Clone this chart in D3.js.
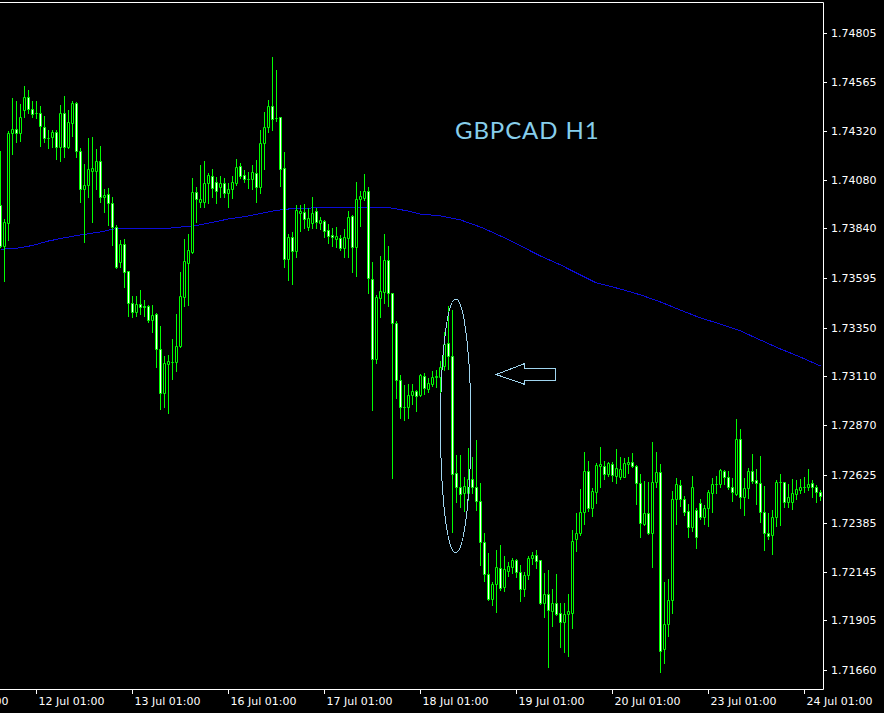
<!DOCTYPE html>
<html>
<head>
<meta charset="utf-8">
<script src="https://cdn.jsdelivr.net/npm/d3@7"></script>
<style>
  html, body { margin: 0; padding: 0; background: #000; }
  svg { display: block; }
</style>
</head>
<body>
<div id="chart"></div>
<script>
// GBPCAD H1 candles, one per hour, [open, high, low, close]
var candles = [
  [1.73956,1.74222,1.73748,1.73755],[1.73755,1.73887,1.73582,1.73870],[1.73868,1.74323,1.73783,1.74313],[1.74310,1.74483,1.74208,1.74330],
  [1.74330,1.74469,1.74268,1.74310],[1.74310,1.74454,1.74272,1.74389],[1.74425,1.74543,1.74392,1.74488],[1.74488,1.74524,1.74412,1.74428],
  [1.74428,1.74471,1.74392,1.74404],[1.74409,1.74469,1.74384,1.74409],[1.74409,1.74445,1.74249,1.74346],[1.74342,1.74395,1.74268,1.74285],
  [1.74288,1.74326,1.74239,1.74287],[1.74290,1.74326,1.74244,1.74315],[1.74315,1.74326,1.74181,1.74244],[1.74244,1.74450,1.74175,1.74409],
  [1.74409,1.74494,1.74194,1.74241],[1.74241,1.74425,1.74236,1.74364],[1.74362,1.74469,1.74296,1.74458],[1.74458,1.74464,1.74194,1.74224],
  [1.74224,1.74237,1.73972,1.74033],[1.74033,1.74157,1.73775,1.74053],[1.74053,1.74285,1.73997,1.74132],[1.74125,1.74293,1.73873,1.74137],
  [1.74125,1.74232,1.74035,1.74173],[1.74173,1.74247,1.73972,1.73997],[1.73997,1.74035,1.73923,1.74005],[1.74009,1.74041,1.73857,1.73964],
  [1.73964,1.73997,1.73758,1.73846],[1.73846,1.73857,1.73643,1.73648],[1.73676,1.73783,1.73651,1.73763],[1.73763,1.73788,1.73550,1.73627],
  [1.73630,1.73630,1.73408,1.73474],[1.73474,1.73507,1.73404,1.73426],[1.73426,1.73507,1.73409,1.73466],[1.73466,1.73536,1.73416,1.73451],
  [1.73457,1.73487,1.73409,1.73454],[1.73457,1.73462,1.73380,1.73387],[1.73387,1.73462,1.73327,1.73413],[1.73418,1.73424,1.73158,1.73243],
  [1.73243,1.73359,1.72947,1.73026],[1.73026,1.73210,1.72960,1.73174],[1.73171,1.73215,1.72927,1.73186],[1.73181,1.73294,1.73095,1.73182],
  [1.73181,1.73418,1.73138,1.73260],[1.73260,1.73625,1.73255,1.73507],[1.73503,1.73788,1.73457,1.73679],[1.73671,1.73813,1.73462,1.73734],
  [1.73725,1.74088,1.73720,1.74022],[1.74022,1.74046,1.73873,1.73984],[1.73972,1.74153,1.73946,1.73986],[1.73972,1.74173,1.73945,1.74063],
  [1.74063,1.74115,1.73967,1.74104],[1.74099,1.74134,1.73997,1.74038],[1.74068,1.74096,1.73964,1.74027],[1.74046,1.74099,1.73997,1.74063],
  [1.74063,1.74088,1.73997,1.74017],[1.74017,1.74063,1.73945,1.74035],[1.74033,1.74099,1.73990,1.74068],[1.74063,1.74183,1.74055,1.74142],
  [1.74148,1.74162,1.74089,1.74101],[1.74104,1.74129,1.74071,1.74083],[1.74083,1.74120,1.74038,1.74083],[1.74083,1.74153,1.74033,1.74117],
  [1.74112,1.74178,1.73972,1.74043],[1.74043,1.74326,1.74017,1.74261],[1.74261,1.74414,1.74132,1.74340],[1.74340,1.74474,1.74318,1.74445],
  [1.74445,1.74688,1.74326,1.74379],[1.74384,1.74622,1.74371,1.74384],[1.74389,1.74392,1.74051,1.74132],[1.74137,1.74219,1.73651,1.73688],
  [1.73688,1.73813,1.73586,1.73796],[1.73796,1.73824,1.73566,1.73730],[1.73730,1.73956,1.73701,1.73931],[1.73918,1.73956,1.73829,1.73928],
  [1.73920,1.73961,1.73841,1.73887],[1.73849,1.73943,1.73832,1.73893],[1.73868,1.73997,1.73841,1.73918],[1.73926,1.73943,1.73841,1.73873],
  [1.73868,1.73898,1.73837,1.73882],[1.73877,1.73882,1.73799,1.73829],[1.73832,1.73861,1.73770,1.73804],[1.73808,1.73841,1.73753,1.73799],
  [1.73788,1.73849,1.73747,1.73803],[1.73794,1.73808,1.73734,1.73745],[1.73745,1.73836,1.73701,1.73796],[1.73794,1.73928,1.73698,1.73895],
  [1.73902,1.73907,1.73627,1.73750],[1.73750,1.74071,1.73605,1.73984],[1.73984,1.74025,1.73852,1.74000],[1.73992,1.74109,1.73981,1.74025],
  [1.74025,1.74046,1.73520,1.73594],[1.73589,1.73676,1.72944,1.73194],[1.73194,1.73512,1.73176,1.73500],[1.73495,1.73704,1.73404,1.73531],
  [1.73528,1.73813,1.73470,1.73684],[1.73684,1.73753,1.73457,1.73520],[1.73523,1.73523,1.72606,1.73372],[1.73372,1.73383,1.73001,1.73092],
  [1.73092,1.73116,1.72903,1.72957],[1.72960,1.73067,1.72894,1.72960],[1.72960,1.73072,1.72903,1.73018],[1.73016,1.73072,1.72973,1.73038],
  [1.73038,1.73043,1.72940,1.73014],[1.73018,1.73122,1.73013,1.73116],[1.73113,1.73125,1.73021,1.73051],[1.73047,1.73100,1.73034,1.73078],
  [1.73072,1.73138,1.73062,1.73105],[1.73105,1.73141,1.73059,1.73112],[1.73108,1.73187,1.73029,1.73155],[1.73162,1.73330,1.73141,1.73268],
  [1.73273,1.73457,1.73145,1.73212],[1.73212,1.73437,1.72343,1.72626],[1.72631,1.72722,1.72491,1.72562],[1.72562,1.72722,1.72466,1.72527],
  [1.72532,1.72614,1.72447,1.72568],[1.72532,1.72755,1.72499,1.72602],[1.72602,1.72713,1.72535,1.72562],[1.72565,1.72796,1.72450,1.72494],
  [1.72494,1.72582,1.72178,1.72293],[1.72293,1.72335,1.72099,1.72133],[1.72133,1.72236,1.72006,1.72009],[1.72011,1.72096,1.71981,1.72085],
  [1.72083,1.72252,1.71948,1.72167],[1.72162,1.72277,1.72055,1.72063],[1.72071,1.72223,1.72052,1.72157],[1.72150,1.72195,1.72124,1.72173],
  [1.72170,1.72214,1.72140,1.72203],[1.72203,1.72207,1.72118,1.72142],[1.72142,1.72178,1.72002,1.72058],[1.72058,1.72145,1.72025,1.72129],
  [1.72129,1.72223,1.72109,1.72212],[1.72212,1.72244,1.72182,1.72228],[1.72228,1.72252,1.72162,1.72200],[1.72203,1.72203,1.71986,1.71989],
  [1.71989,1.72137,1.71923,1.72035],[1.72035,1.72154,1.71673,1.71956],[1.71953,1.72060,1.71879,1.71989],[1.71989,1.72134,1.71932,1.71937],
  [1.71940,1.71989,1.71775,1.71896],[1.71896,1.71989,1.71750,1.71935],[1.71935,1.72035,1.71731,1.71951],[1.71940,1.72351,1.71866,1.72298],
  [1.72305,1.72434,1.72249,1.72335],[1.72335,1.72554,1.72327,1.72439],[1.72439,1.72735,1.72381,1.72643],[1.72643,1.72692,1.72447,1.72461],
  [1.72461,1.72557,1.72420,1.72544],[1.72540,1.72681,1.72486,1.72672],[1.72669,1.72760,1.72565,1.72677],[1.72669,1.72692,1.72603,1.72628],
  [1.72628,1.72689,1.72619,1.72681],[1.72677,1.72689,1.72593,1.72623],[1.72619,1.72751,1.72585,1.72656],[1.72614,1.72713,1.72602,1.72651],
  [1.72614,1.72705,1.72611,1.72681],[1.72677,1.72710,1.72631,1.72686],[1.72686,1.72733,1.72661,1.72669],[1.72669,1.72672,1.72480,1.72582],
  [1.72582,1.72628,1.72318,1.72387],[1.72381,1.72593,1.72376,1.72434],[1.72434,1.72590,1.72332,1.72338],[1.72338,1.72787,1.72170,1.72587],
  [1.72587,1.72738,1.72564,1.72636],[1.72636,1.72677,1.71652,1.71754],[1.71762,1.72096,1.71696,1.71887],[1.71886,1.72109,1.71829,1.72006],
  [1.72006,1.72544,1.71940,1.72504],[1.72504,1.72606,1.72379,1.72577],[1.72573,1.72598,1.72471,1.72503],[1.72504,1.72519,1.72425,1.72442],
  [1.72445,1.72480,1.72318,1.72365],[1.72365,1.72618,1.72348,1.72565],[1.72450,1.72461,1.72264,1.72318],[1.72483,1.72504,1.72404,1.72414],
  [1.72414,1.72475,1.72381,1.72458],[1.72458,1.72549,1.72373,1.72537],[1.72532,1.72606,1.72442,1.72577],[1.72577,1.72618,1.72535,1.72577],
  [1.72577,1.72652,1.72562,1.72648],[1.72643,1.72648,1.72578,1.72611],[1.72611,1.72644,1.72552,1.72562],[1.72565,1.72606,1.72496,1.72537],
  [1.72529,1.72899,1.72524,1.72799],[1.72799,1.72850,1.72461,1.72516],[1.72513,1.72606,1.72425,1.72557],[1.72557,1.72656,1.72511,1.72643],
  [1.72643,1.72727,1.72582,1.72595],[1.72598,1.72652,1.72480,1.72582],[1.72582,1.72717,1.72392,1.72442],[1.72439,1.72568,1.72252,1.72335],
  [1.72335,1.72437,1.72305,1.72323],[1.72327,1.72450,1.72233,1.72414],[1.72414,1.72598,1.72371,1.72587],[1.72587,1.72628,1.72376,1.72587],
  [1.72587,1.72587,1.72463,1.72491],[1.72491,1.72578,1.72466,1.72513],[1.72491,1.72603,1.72455,1.72532],[1.72527,1.72598,1.72504,1.72552],
  [1.72549,1.72603,1.72532,1.72565],[1.72562,1.72611,1.72537,1.72562],[1.72562,1.72652,1.72549,1.72578],[1.72582,1.72598,1.72516,1.72562],
  [1.72562,1.72573,1.72491,1.72537],[1.72537,1.72549,1.72499,1.72521]
];

// moving average, read at some bars
var maBars   = [0, 4, 8, 12, 16, 20, 25, 29, 35, 42, 45, 49, 53, 57, 61, 65, 69, 72, 80, 90, 97, 102, 105, 110,
                115, 120, 125, 130, 135, 140, 145, 149, 155, 160, 165, 170, 175, 180, 185, 190, 195, 200, 205];
var maValues = [1.73737, 1.73742, 1.73756, 1.73778, 1.73794, 1.73808, 1.73823, 1.73840, 1.73841, 1.73841, 1.73847,
                1.73855, 1.73870, 1.73887, 1.73898, 1.73914, 1.73929, 1.73936, 1.73943, 1.73945, 1.73943, 1.73926,
                1.73911, 1.73902, 1.73882, 1.73847, 1.73803, 1.73754, 1.73704, 1.73660, 1.73610, 1.73571, 1.73541,
                1.73512, 1.73477, 1.73437, 1.73398, 1.73368, 1.73334, 1.73289, 1.73245, 1.73205, 1.73161];

// price axis
var priceTicks = [1.74805, 1.74565, 1.74320, 1.74080, 1.73840, 1.73595, 1.73350,
                  1.73110, 1.72870, 1.72625, 1.72385, 1.72145, 1.71905, 1.71660];

// time axis (bar index of each label)
var timeTickBars   = [-15, 9, 33, 57, 81, 105, 129, 153, 177, 201];
var timeTickLabels = ["11 Jul 01:00", "12 Jul 01:00", "13 Jul 01:00", "16 Jul 01:00", "17 Jul 01:00",
                      "18 Jul 01:00", "19 Jul 01:00", "20 Jul 01:00", "23 Jul 01:00", "24 Jul 01:00"];

// annotations: ellipse [left bar, right bar, top price, bottom price] and the arrow outline
var ellipseBox = [110, 117.6, 1.73492, 1.72239];
var arrowBars   = [123.9, 131.1, 131.1, 138.8, 138.8, 131.1, 131.1];
var arrowPrices = [1.73123, 1.73174, 1.73150, 1.73150, 1.73093, 1.73093, 1.73071];

var width = 884, height = 713;
var lime = "#00ff00", annot = "#9fd4ee";

var svg = d3.select("#chart").append("svg")
    .attr("width", width)
    .attr("height", height)
    .style("background", "#000");

// bar index -> pixel, price -> pixel
var x = d3.scaleLinear().domain([0, 205]).range([0.5, 820.5]);
var y = d3.scaleLinear().domain([1.71660, 1.74805]).range([670, 33]);
function py(v) { return Math.round(y(v)) + 0.5; }

// moving average (behind the candles)
var maLine = d3.line()
    .x(d => x(d[0]))
    .y(d => y(d[1]));
svg.append("path")
    .datum(d3.zip(maBars, maValues))
    .attr("d", maLine)
    .attr("fill", "none")
    .attr("stroke", "#0c0cd8")
    .attr("stroke-width", 1)
    .attr("shape-rendering", "crispEdges");

// candles
var bars = svg.append("g").selectAll("g")
    .data(candles)
    .join("g");

bars.append("line")
    .attr("x1", (d, i) => x(i))
    .attr("x2", (d, i) => x(i))
    .attr("y1", d => py(d[1]) - 0.5)
    .attr("y2", d => py(d[2]) + 0.5)
    .attr("stroke", lime)
    .attr("stroke-width", 1);

bars.append("path")
    .attr("d", (d, i) => {
        var cx = x(i);
        var top = Math.min(py(d[0]), py(d[3]));
        var bot = Math.max(py(d[0]), py(d[3]));
        return "M" + (cx - 1) + "," + top + "H" + (cx + 1) + "V" + bot + "H" + (cx - 1) + "Z";
    })
    .attr("fill", d => d[3] < d[0] ? "#ffffff" : "#000000")
    .attr("stroke", lime)
    .attr("stroke-width", 1);

// ellipse around the drop
svg.append("ellipse")
    .attr("cx", (x(ellipseBox[0]) + x(ellipseBox[1])) / 2)
    .attr("cy", (y(ellipseBox[2]) + y(ellipseBox[3])) / 2)
    .attr("rx", (x(ellipseBox[1]) - x(ellipseBox[0])) / 2)
    .attr("ry", (y(ellipseBox[3]) - y(ellipseBox[2])) / 2)
    .attr("fill", "none")
    .attr("stroke", annot)
    .attr("stroke-width", 1)
    .attr("shape-rendering", "crispEdges");

// arrow pointing at it
svg.append("polygon")
    .attr("points", d3.zip(arrowBars, arrowPrices).map(p => x(p[0]) + "," + py(p[1])).join(" "))
    .attr("fill", "#000")
    .attr("stroke", annot)
    .attr("stroke-width", 1)
    .attr("shape-rendering", "crispEdges");

// title label
svg.append("text")
    .attr("x", 455)
    .attr("y", 139)
    .attr("fill", "#87ceeb")
    .style("font-family", "Lato, 'Open Sans', sans-serif")
    .style("font-size", "24px")
    .style("letter-spacing", "0.9px")
    .text("GBPCAD H1");

// frame
svg.append("path")
    .attr("d", "M0,2.5H823.5V689.5H0")
    .attr("fill", "none")
    .attr("stroke", "#ffffff")
    .attr("stroke-width", 1);

// price axis
var yAxis = svg.append("g");
yAxis.selectAll("line")
    .data(priceTicks)
    .join("line")
    .attr("x1", 824)
    .attr("x2", 827)
    .attr("y1", d => py(d))
    .attr("y2", d => py(d))
    .attr("stroke", "#ffffff");
yAxis.selectAll("text")
    .data(priceTicks)
    .join("text")
    .attr("x", 831)
    .attr("y", d => y(d) + 4)
    .attr("fill", "#ffffff")
    .style("font-family", "'DejaVu Sans', sans-serif")
    .style("font-size", "11px")
    .text(d => d.toFixed(5));

// time axis
var xAxis = svg.append("g");
xAxis.selectAll("line")
    .data(timeTickBars)
    .join("line")
    .attr("x1", d => x(d))
    .attr("x2", d => x(d))
    .attr("y1", 690)
    .attr("y2", 694)
    .attr("stroke", "#ffffff");
xAxis.selectAll("text")
    .data(timeTickBars)
    .join("text")
    .attr("x", d => x(d) + 2)
    .attr("y", 705)
    .attr("fill", "#ffffff")
    .style("font-family", "'DejaVu Sans', sans-serif")
    .style("font-size", "11px")
    .text((d, i) => timeTickLabels[i]);
</script>
</body>
</html>
